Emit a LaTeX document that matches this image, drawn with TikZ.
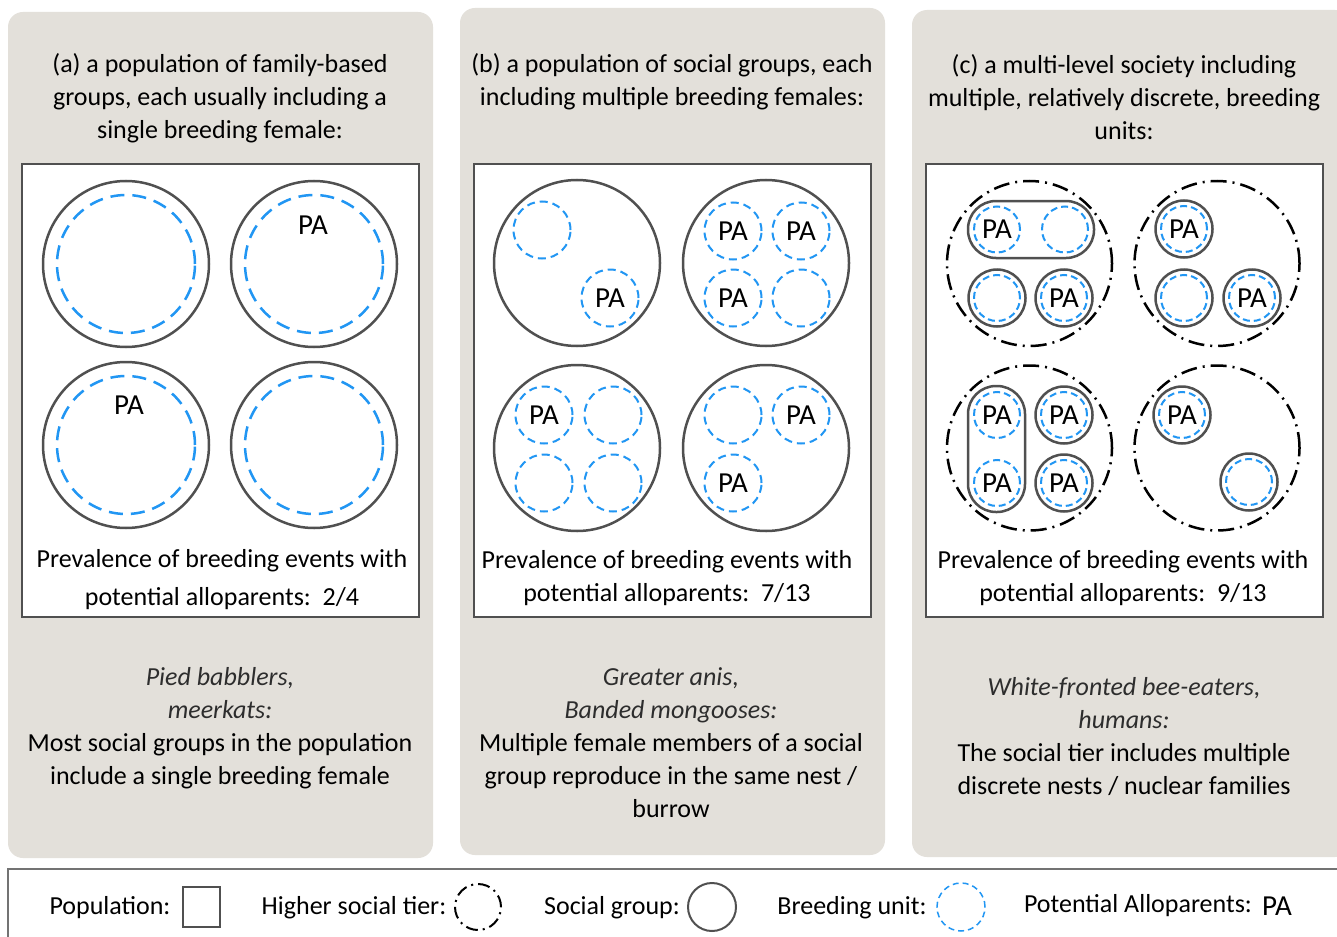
\documentclass[tikz,border=0pt]{standalone}
\usepackage{fontspec}
\setmainfont{Carlito}
\definecolor{panelgray}{RGB}{227,224,218}
\definecolor{grp}{RGB}{80,80,80}
\definecolor{unitblue}{RGB}{33,150,243}
\definecolor{txtgray}{RGB}{45,45,45}
\tikzset{
  panel/.style={fill=panelgray, draw=none, rounded corners=15pt},
  popbox/.style={draw=grp, line width=1.5pt, fill=white},
  biggroup/.style={circle, draw=grp, line width=2.5pt, minimum size=166pt, inner sep=0pt},
  bigunit/.style={circle, draw=unitblue, line width=2.5pt, dash pattern=on 14pt off 8pt, minimum size=138pt, inner sep=0pt},
  unit/.style={circle, draw=unitblue, line width=2pt, dash pattern=on 8pt off 5pt, minimum size=57pt, inner sep=0pt, font=\fontsize{29}{29}\selectfont},
  tier/.style={circle, draw=black, line width=2.5pt, dash pattern=on 16pt off 6pt on 2pt off 6pt, minimum size=165pt, inner sep=0pt},
  sgroup/.style={circle, draw=grp, line width=2.5pt, minimum size=57pt, inner sep=0pt},
  cunit/.style={circle, draw=unitblue, line width=2pt, dash pattern=on 7pt off 4pt, minimum size=46pt, inner sep=0pt, font=\fontsize{29}{29}\selectfont},
  stadium/.style={draw=grp, line width=2.5pt, rounded corners=28pt, inner sep=0pt},
  pa/.style={font=\fontsize{29}{29}\selectfont},
  title/.style={align=center, font=\fontsize{26}{33}\selectfont},
  body/.style={align=center, font=\fontsize{26}{33}\selectfont},
  legtxt/.style={font=\fontsize{26}{26}\selectfont},
}
\begin{document}
\begin{tikzpicture}[x=1pt,y=-1pt]
\useasboundingbox (0,0) rectangle (1337,936);
\fill[white] (0,0) rectangle (1337,936);
% panels
\path[panel] (8,12) rectangle (433,858);
\path[panel] (460,8) rectangle (885,855);
\path[panel] (912,10) rectangle (1350,857);
% legend box
\draw[draw=grp!80, line width=1.5pt, fill=white] (8,869) rectangle (1345,946);
% population boxes
\draw[popbox] (22,164) rectangle (419,617);
\draw[popbox] (474,164) rectangle (871,617);
\draw[popbox] (926,164) rectangle (1323,617);
% titles
\node[title] (ta) at (220,98) {(a) a population of family-based\\groups, each usually including a\\single breeding female:};
\node[title] (tb) at (672,81.5) {(b) a population of social groups, each\\including multiple breeding females:};
\node[title] (tc) at (1124,97) {(c) a multi-level society including\\multiple, relatively discrete, breeding\\units:};
% panel a
\node[biggroup] (a1) at (126,264) {};
\node[bigunit] (a1u) at (126,264) {};
\node[biggroup] (a2) at (314,264) {};
\node[bigunit] (a2u) at (314,264) {};
\node[pa] (a2pa) at (313,225) {PA};
\node[biggroup] (a3) at (126,445) {};
\node[bigunit] (a3u) at (126,445) {};
\node[pa] (a3pa) at (129,405) {PA};
\node[biggroup] (a4) at (314,445) {};
\node[bigunit] (a4u) at (314,445) {};
% panel b
\node[biggroup] (b1) at (577,263) {};
\node[unit] (b1a) at (542,230) {};
\node[unit] (b1b) at (610,298) {PA};
\node[biggroup] (b2) at (766,263) {};
\node[unit] (b2a) at (733,231) {PA};
\node[unit] (b2b) at (801,231) {PA};
\node[unit] (b2c) at (733,298) {PA};
\node[unit] (b2d) at (801,298) {};
\node[biggroup] (b3) at (577,448) {};
\node[unit] (b3a) at (544,415) {PA};
\node[unit] (b3b) at (613,415) {};
\node[unit] (b3c) at (544,483) {};
\node[unit] (b3d) at (613,483) {};
\node[biggroup] (b4) at (766,448) {};
\node[unit] (b4a) at (733,415) {};
\node[unit] (b4b) at (801,415) {PA};
\node[unit] (b4c) at (733,483) {PA};
% panel c
\node[tier] (c1) at (1029.5,263.5) {};
\node[stadium, minimum width=126pt, minimum height=57pt] (c1s) at (1031,229.5) {};
\node[cunit] (c1a) at (997,229.5) {PA};
\node[cunit] (c1b) at (1065,229.5) {};
\node[sgroup] (c1g1) at (997,298) {};
\node[cunit] (c1c) at (997,298) {};
\node[sgroup] (c1g2) at (1064,298) {};
\node[cunit] (c1d) at (1064,298) {PA};
\node[tier] (c2) at (1217,263.5) {};
\node[sgroup] (c2g1) at (1184,229) {};
\node[cunit] (c2a) at (1184,229) {PA};
\node[sgroup] (c2g2) at (1184,298) {};
\node[cunit] (c2b) at (1184,298) {};
\node[sgroup] (c2g3) at (1252,298) {};
\node[cunit] (c2c) at (1252,298) {PA};
\node[tier] (c3) at (1029.5,448) {};
\node[stadium, minimum width=57pt, minimum height=126pt] (c3s) at (996.5,449) {};
\node[cunit] (c3a) at (997,415) {PA};
\node[cunit] (c3b) at (997,483) {PA};
\node[sgroup] (c3g1) at (1064,415) {};
\node[cunit] (c3c) at (1064,415) {PA};
\node[sgroup] (c3g2) at (1064,483) {};
\node[cunit] (c3d) at (1064,483) {PA};
\node[tier] (c4) at (1217,448) {};
\node[sgroup] (c4g1) at (1182,415) {};
\node[cunit] (c4a) at (1182,415) {PA};
\node[sgroup] (c4g2) at (1249,482) {};
\node[cunit] (c4b) at (1249,482) {};
% prevalence texts
\node[body, font=\fontsize{26}{38}\selectfont] (pa) at (222,580) {Prevalence of breeding events with\\potential alloparents:\ \ 2/4};
\node[body] (pb) at (667,578) {Prevalence of breeding events with\\potential alloparents:\ \ 7/13};
\node[body] (pc) at (1123,578) {Prevalence of breeding events with\\potential alloparents:\ \ 9/13};
% bottom descriptions
\node[body] (da) at (220,728) {{\color{txtgray}\itshape Pied babblers,}\\{\color{txtgray}\itshape meerkats:}\\Most social groups in the population\\include a single breeding female};
\node[body] (db) at (671,743) {{\color{txtgray}\itshape Greater anis,}\\{\color{txtgray}\itshape Banded mongooses:}\\Multiple female members of a social\\group reproduce in the same nest /\\burrow};
\node[body] (dc) at (1124,737) {{\color{txtgray}\itshape White-fronted bee-eaters,}\\{\color{txtgray}\itshape humans:}\\The social tier includes multiple\\discrete nests / nuclear families};
% legend
\node[legtxt] (l1) at (110,908) {Population:};
\draw[popbox] (183,887) rectangle (220,927);
\node[legtxt] (l2) at (354,908) {Higher social tier:};
\node[tier, minimum size=46pt, line width=2pt, dash pattern=on 12pt off 5pt on 2pt off 5pt] (l2s) at (478,907) {};
\node[legtxt] (l3) at (612,908) {Social group:};
\node[sgroup, minimum size=48pt, line width=2pt] (l3s) at (712,907) {};
\node[legtxt] (l4) at (852,908) {Breeding unit:};
\node[cunit, minimum size=48pt, line width=1.5pt, dash pattern=on 6pt off 4pt] (l4s) at (961,907) {};
\node[legtxt] (l5) at (1138,906) {Potential Alloparents:};
\node[pa] (l5s) at (1277,906) {PA};
\end{tikzpicture}
\end{document}
